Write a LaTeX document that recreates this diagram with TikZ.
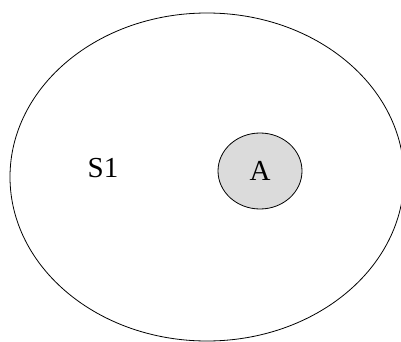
\documentclass[tikz,border=0pt]{standalone}
\usepackage{fontspec}
\setmainfont{Liberation Serif}
\usetikzlibrary{shapes.geometric}
\begin{document}
\begin{tikzpicture}[x=1pt,y=-1pt,
  setbox/.style={draw=black, line width=0.8pt, ellipse, inner sep=0pt, minimum width=394pt, minimum height=328pt},
  elem/.style={draw=black, line width=0.8pt, ellipse, fill=black!14, inner sep=0pt, minimum width=84pt, minimum height=76pt},
  lbl/.style={font=\fontsize{29}{32}\selectfont}]
\useasboundingbox (0,0) rectangle (401,342);
\begin{scope}
\clip (0,0) rectangle (401,342);
\node[setbox] (s1) at (207,177) {};
\end{scope}
\node[elem, lbl] (a) at (260,171) {A};
\node[lbl] (s1lbl) at (103,168) {S1};
\end{tikzpicture}
\end{document}
